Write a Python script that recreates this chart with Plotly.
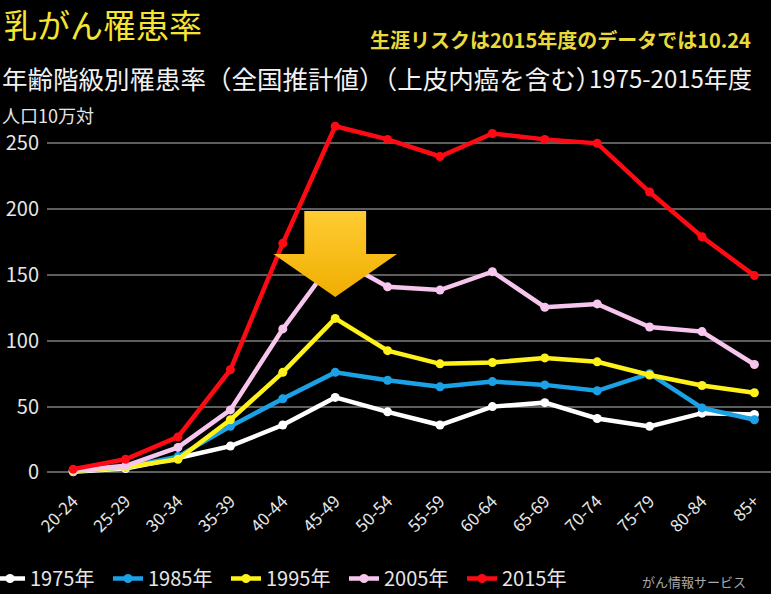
import plotly.graph_objects as go

# ---- data ----
age_groups = ["20-24", "25-29", "30-34", "35-39", "40-44", "45-49", "50-54",
              "55-59", "60-64", "65-69", "70-74", "75-79", "80-84", "85+"]
y1975 = [0.5, 3, 11, 20, 36, 57, 46, 36, 50, 53, 41, 35, 45, 44]
y1985 = [1, 4, 12, 35, 56, 76, 70, 65, 69, 66.5, 62, 75, 49, 40]
y1995 = [1, 4, 10, 40, 76, 117, 92.5, 82.5, 83.5, 87, 84, 74, 66, 60.5]
y2005 = [1.5, 5, 19, 47.5, 109, 163, 141, 138.5, 152.5, 125.5, 128, 110.5, 107, 82]
y2015 = [2.5, 10, 27, 78, 174, 263, 253, 240, 257.5, 253, 250, 213, 179, 149.5]
series_names = ["1975年", "1985年", "1995年", "2005年", "2015年"]
series_values = [y1975, y1985, y1995, y2005, y2015]
series_colors = ["#FFFFFF", "#1BA1E6", "#FFF21A", "#F6C6EE", "#FF0A14"]
y_ticks = [0, 50, 100, 150, 200, 250]

title_text = "乳がん罹患率"
risk_text = "生涯リスクは2015年度のデータでは10.24"
subtitle_text = "年齢階級別罹患率（全国推計値）（上皮内癌を含む）"
subtitle_years = "1975-2015年度"
unit_text = "人口10万対"
source_text = "がん情報サービス"
arrow_target = "45-49"

FONT = "Noto Sans CJK JP"
W, H = 771, 594
ML, MR, MT, MB = 47, 0, 117, 115
PW, PH = W - ML - MR, H - MT - MB
x_range = [-0.5, -0.5 + PW / 52.4]
y_range = [-5, 270]


def px(x):  # pixel -> paper x
    return (x - ML) / PW


def py(y):  # pixel -> paper y
    return (H - MB - y) / PH


fig = go.Figure()
for name, vals, col in zip(series_names, series_values, series_colors):
    fig.add_trace(go.Scatter(
        x=age_groups, y=vals, name=name, mode="lines+markers",
        line=dict(color=col, width=4.5),
        marker=dict(color=col, size=9, symbol="circle"),
        cliponaxis=False, hoverinfo="skip",
    ))

# decorative down arrow pointing at the peak age group
t = age_groups.index(arrow_target)
shaft_hw, head_hw = 0.59, 1.18
shaft_top, head_top, tip = 198.6, 165.9, 133.2
ax = [t - shaft_hw, t + shaft_hw, t + shaft_hw, t + head_hw, t, t - head_hw, t - shaft_hw, t - shaft_hw]
ay = [shaft_top, shaft_top, head_top, head_top, tip, head_top, head_top, shaft_top]
fig.add_trace(go.Scatter(
    x=ax, y=ay, xaxis="x2", yaxis="y", mode="lines", fill="toself",
    line=dict(width=0, color="rgba(0,0,0,0)"),
    fillcolor="#F8BF10",
    fillgradient=dict(type="vertical", colorscale=[[0, "#F0AE00"], [1, "#FFCC33"]]),
    showlegend=False, hoverinfo="skip",
))

fig.update_layout(
    width=W, height=H,
    margin=dict(l=ML, r=MR, t=MT, b=MB, autoexpand=False),
    paper_bgcolor="#000000", plot_bgcolor="#000000",
    font=dict(family=FONT, color="#FFFFFF"),
    showlegend=True,
    xaxis=dict(
        type="category", range=x_range, showgrid=False, zeroline=False,
        showline=False, ticks="", tickangle=-45, automargin=False,
        tickfont=dict(size=17, color="#E6E6E6", family=FONT),
        ticklabelstandoff=8,
    ),
    xaxis2=dict(overlaying="x", type="linear", range=x_range, visible=False),
    yaxis=dict(
        range=y_range, tickvals=y_ticks, showgrid=True, gridcolor="#5E5E5E",
        gridwidth=2, zeroline=False, showline=False, ticks="", automargin=False,
        tickfont=dict(size=20, color="#E6E6E6", family=FONT),
        ticklabelstandoff=7,
    ),
    legend=dict(
        orientation="h", x=px(-10), y=py(559), xanchor="left", yanchor="top",
        font=dict(size=20, color="#E6E6E6", family=FONT), bgcolor="rgba(0,0,0,0)",
        itemwidth=30, tracegroupgap=0, entrywidth=73, entrywidthmode="pixels",
    ),
    annotations=[
        dict(text=title_text, x=px(2), y=py(24), xref="paper", yref="paper",
             xanchor="left", yanchor="middle", showarrow=False,
             font=dict(size=33, color="#F5E532", family=FONT)),
        dict(text=risk_text, x=px(753), y=py(40), xref="paper", yref="paper",
             xanchor="right", yanchor="middle", showarrow=False,
             font=dict(size=20, color="#E9DA3A", family=FONT, weight="bold")),
        dict(text=subtitle_text, x=px(0), y=py(77), xref="paper", yref="paper",
             xanchor="left", yanchor="middle", showarrow=False,
             font=dict(size=25.5, color="#F2F2F2", family=FONT)),
        dict(text=subtitle_years, x=px(587), y=py(77), xref="paper", yref="paper",
             xanchor="left", yanchor="middle", showarrow=False,
             font=dict(size=24, color="#F2F2F2", family=FONT)),
        dict(text=unit_text, x=px(0), y=py(115), xref="paper", yref="paper",
             xanchor="left", yanchor="middle", showarrow=False,
             font=dict(size=18, color="#E6E6E6", family=FONT)),
        dict(text=source_text, x=px(640), y=py(593), xref="paper", yref="paper",
             xanchor="left", yanchor="bottom", showarrow=False,
             font=dict(size=13, color="#AAAAAA", family=FONT)),
    ],
)

fig.write_html("out.html", config={"displayModeBar": False},
               post_script="document.body.style.margin='0';document.body.style.overflow='hidden';")
